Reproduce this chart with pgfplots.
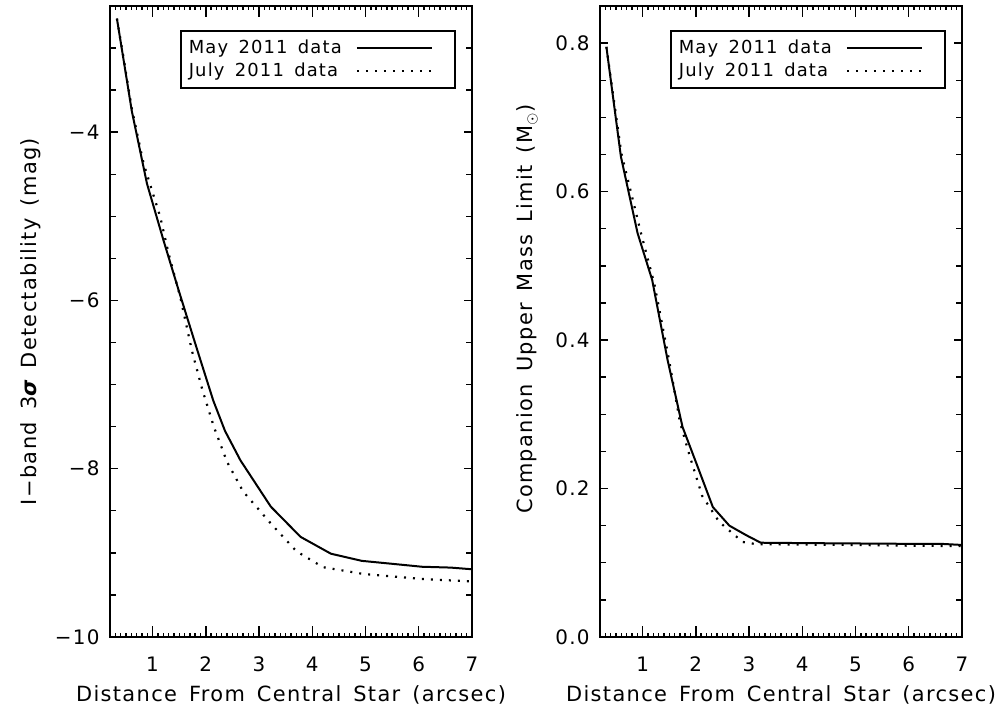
\documentclass[border=0pt]{standalone}
\usepackage{fontspec}
\setmainfont{DejaVu Sans}[LetterSpace=6.5, WordSpace=1.5]
\usepackage{pgfplots}
\pgfplotsset{compat=1.18}
\begin{document}
\begin{tikzpicture}
\path[use as bounding box] (-55bp,-37.5bp) rectangle (448bp,318.5bp);
\pgfplotsset{
  myaxis/.style={
    scale only axis, width=181bp, height=315.5bp,
    xmin=0.2, xmax=7,
    xtick={1,2,3,4,5,6,7},
    minor xtick={0.2,0.3,...,7.01},
    tick align=inside,
    axis line style={line width=1bp},
    tick style={black, line width=0.7bp},
    xtick style={/pgfplots/major tick length=5.5bp,/pgfplots/minor tick length=2bp},
    ytick style={/pgfplots/major tick length=4bp,/pgfplots/minor tick length=3bp},
    /pgf/number format/assume math mode=true,
    xticklabel style={anchor=base, yshift=-17.3bp, inner sep=0pt, font=\fontsize{10}{12}\selectfont},
    yticklabel style={anchor=east, xshift=-5bp, inner sep=0pt, font=\fontsize{10}{12}\selectfont},
    label style={font=\fontsize{10.5}{12.5}\selectfont},
    xlabel={Distance From Central Star (arcsec)},
    xlabel style={at={(axis description cs:0.5,0)}, anchor=base, yshift=-32.3bp},
    legend style={at={(axis description cs:0.957,0.962)}, anchor=north east,
      draw=black, line width=1bp, font=\fontsize{9}{10.5}\selectfont,
      inner xsep=2.7bp, inner ysep=3.2bp, row sep=0.6bp, column sep=5.8bp,
      nodes={inner sep=1.2bp}, cells={anchor=west}},
    legend plot pos=right,
    legend image code/.code={\draw[##1] (0bp,0bp) -- (37.5bp,0bp); \path (46bp,0bp);},
  },
  may/.style={black, line width=1bp},
  july/.style={black, line width=1.1bp, dash pattern=on 1bp off 3.5bp},
}
\begin{axis}[myaxis,
  ymin=-10, ymax=-2.5,
  ytick={-10,-8,-6,-4}, yticklabels={−10,−8,−6,−4},
  minor ytick={-9.5,-9,...,-3},
  ylabel={I−band 3{\bfseries\itshape σ} Detectability (mag)},
  ylabel style={at={(axis description cs:-0.2017,0.5)}, anchor=base},
]
\addplot[may] coordinates {
(0.33,-2.65) (0.45,-3.12) (0.61,-3.75) (0.894,-4.61) (1.207,-5.29) (1.49,-5.88)
(1.84,-6.59) (2.14,-7.19) (2.36,-7.55) (2.65,-7.90) (3.22,-8.45) (3.78,-8.81)
(4.35,-9.01) (4.93,-9.095) (5.5,-9.13) (6.06,-9.165) (6.6,-9.175) (7.0,-9.195)
};
\addlegendentry{May 2011 data}
\addplot[july] coordinates {
(0.33,-2.65) (0.45,-3.10) (0.61,-3.72) (0.83,-4.37) (1.145,-5.01) (1.30,-5.44)
(1.52,-5.96) (1.74,-6.60) (1.93,-7.05) (2.15,-7.50) (2.40,-7.92) (2.70,-8.27)
(3.22,-8.65) (3.70,-8.98) (4.20,-9.17) (4.95,-9.25) (5.5,-9.28) (6.05,-9.31) (7.0,-9.34)
};
\addlegendentry{July 2011 data}
\end{axis}
\begin{axis}[myaxis, at={(245bp,0)},
  ymin=0, ymax=0.85,
  ytick={0,0.2,0.4,0.6,0.8}, yticklabels={0.0,0.2,0.4,0.6,0.8},
  minor ytick={0.05,0.1,...,0.851},
  ylabel={Companion Upper Mass Limit (M$_\odot$)},
  ylabel style={at={(axis description cs:-0.1856,0.52)}, anchor=base},
]
\addplot[may] coordinates {
(0.32,0.795) (0.593,0.647) (0.906,0.544) (1.18,0.481) (1.47,0.373) (1.75,0.283)
(2.01,0.234) (2.32,0.175) (2.63,0.150) (2.95,0.137) (3.22,0.127) (4,0.1265)
(5,0.126) (6,0.1255) (6.6,0.1255) (7.0,0.124)
};
\addlegendentry{May 2011 data}
\addplot[july] coordinates {
(0.32,0.795) (0.60,0.652) (0.97,0.544) (1.22,0.476) (1.50,0.372) (1.70,0.29)
(1.88,0.245) (2.12,0.19) (2.44,0.155) (2.88,0.128) (3.14,0.125) (4,0.1245)
(5,0.124) (6,0.123) (7,0.1225)
};
\addlegendentry{July 2011 data}
\end{axis}
\end{tikzpicture}
\end{document}
